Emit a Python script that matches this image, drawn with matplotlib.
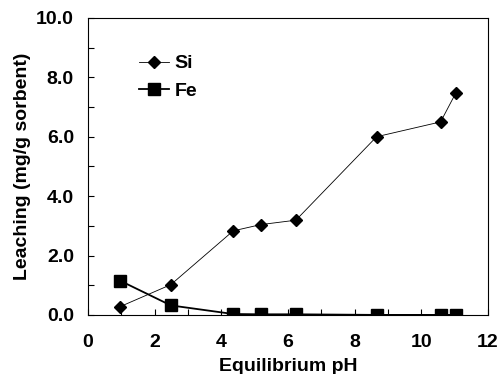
import matplotlib
matplotlib.use("Agg")
import matplotlib.pyplot as plt
from matplotlib.ticker import MultipleLocator, FormatStrFormatter

plt.rcParams['font.family'] = ['Liberation Sans', 'DejaVu Sans']
plt.rcParams['font.weight'] = 'bold'

# dados
ph = [0.97, 2.49, 4.36, 5.18, 6.24, 8.66, 10.58, 11.03]
si = [0.28, 1.02, 2.83, 3.04, 3.19, 6.0, 6.5, 7.46]
fe = [1.15, 0.32, 0.03, 0.02, 0.02, 0.0, 0.0, 0.0]

fig = plt.figure(figsize=(5.02, 3.74), dpi=100)
ax = fig.add_axes([0.175, 0.158, 0.797, 0.794])

ax.plot(ph, si, color='black', lw=0.6, marker='D', ms=6.5, label='Si')
ax.plot(ph, fe, color='black', lw=1.3, marker='s', ms=8, label='Fe')

ax.set_xlim(0, 12)
ax.set_ylim(0, 10)
ax.xaxis.set_major_locator(MultipleLocator(2))
ax.xaxis.set_minor_locator(MultipleLocator(1))
ax.yaxis.set_major_locator(MultipleLocator(2))
ax.yaxis.set_minor_locator(MultipleLocator(1))
ax.yaxis.set_major_formatter(FormatStrFormatter('%.1f'))
ax.tick_params(which='both', direction='in', length=4, width=0.8, labelsize=14)
ax.tick_params(axis='x', pad=14)
ax.tick_params(axis='y', pad=10)

ax.set_xlabel('Equilibrium pH', fontsize=14, fontweight='bold', labelpad=5)
ax.set_ylabel('Leaching (mg/g sorbent)', fontsize=14, fontweight='bold', labelpad=4)

ax.legend(loc='upper left', bbox_to_anchor=(0.085, 0.935), frameon=False,
          fontsize=14, handlelength=1.5, handletextpad=0.3, labelspacing=0.5)

fig.savefig('out.png', dpi=100)
